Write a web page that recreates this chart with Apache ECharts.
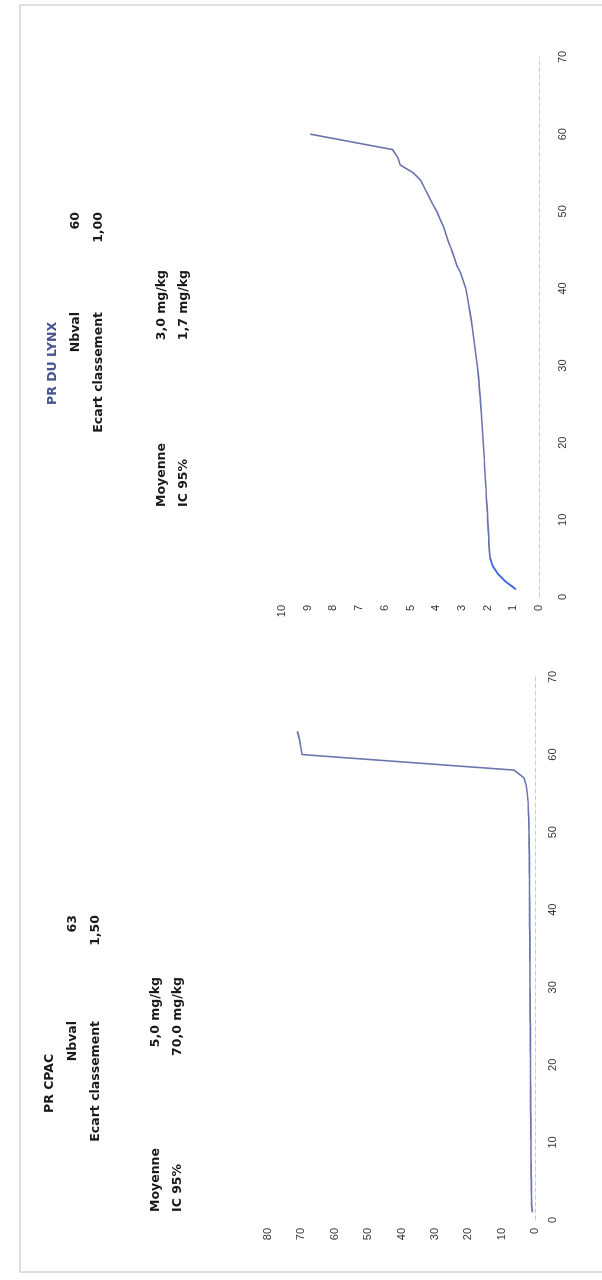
<!DOCTYPE html>
<html>
<head>
<meta charset="utf-8">
<script src="https://cdn.jsdelivr.net/npm/echarts@6/dist/echarts.min.js"></script>
<style>
  html, body { margin: 0; padding: 0; background: #ffffff; overflow: hidden; }
  body { width: 602px; height: 1280px; position: relative; }
  #page {
    position: absolute; left: 0; top: 0;
    width: 1280px; height: 602px;
    transform-origin: 0 0;
    transform: translateY(1280px) rotate(-90deg);
    background: #ffffff;
  }
</style>
</head>
<body>
<div id="page"></div>
<script>
// ---------- data ----------
const xTicks = [0, 10, 20, 30, 40, 50, 60, 70];

// PR CPAC (left chart in the page, bottom of the picture)
const cpacTitle = "PR CPAC";
const cpacRank = [1,2,3,4,5,6,7,8,9,10,11,12,13,14,15,16,17,18,19,20,21,22,23,24,25,26,27,28,29,30,
                  31,32,33,34,35,36,37,38,39,40,41,42,43,44,45,46,47,48,49,50,51,52,53,54,55,56,57,58,59,60,
                  61,62,63];
const cpacValues = [0.8,1.0,1.05,1.1,1.1,1.15,1.15,1.2,1.2,1.2,
                    1.25,1.25,1.25,1.3,1.3,1.3,1.3,1.35,1.35,1.35,
                    1.35,1.4,1.4,1.4,1.4,1.45,1.45,1.45,1.45,1.5,
                    1.5,1.5,1.5,1.55,1.55,1.55,1.55,1.6,1.6,1.6,
                    1.6,1.65,1.65,1.65,1.7,1.7,1.7,1.75,1.75,1.8,
                    1.85,1.9,2.0,2.1,2.3,2.6,3.3,6.3,38.0,69.8,
                    70.2,70.6,71.2];
const cpacYTicks = [0, 10, 20, 30, 40, 50, 60, 70, 80];
const cpacStats = { nbval: "63", ecart: "1,50", moyenne: "5,0 mg/kg", ic: "70,0 mg/kg" };

// PR DU LYNX (right chart in the page, top of the picture)
const lynxTitle = "PR DU LYNX";
const lynxRank = [1,2,3,4,5,6,7,8,9,10,11,12,13,14,15,16,17,18,19,20,21,22,23,24,25,26,27,28,29,30,
                  31,32,33,34,35,36,37,38,39,40,41,42,43,44,45,46,47,48,49,50,51,52,53,54,55,56,57,58,59,60];
const lynxValues = [0.9,1.3,1.6,1.8,1.9,1.93,1.95,1.96,1.98,2.0,
                    2.01,2.03,2.05,2.06,2.08,2.1,2.12,2.13,2.15,2.17,
                    2.19,2.21,2.23,2.25,2.27,2.29,2.32,2.34,2.37,2.4,
                    2.44,2.48,2.52,2.56,2.6,2.64,2.69,2.74,2.79,2.85,
                    2.95,3.05,3.2,3.3,3.4,3.52,3.62,3.72,3.85,3.98,
                    4.15,4.3,4.45,4.6,4.9,5.4,5.5,5.7,7.3,8.9];
const lynxYTicks = [0,1,2,3,4,5,6,7,8,9,10];
const lynxStats = { nbval: "60", ecart: "1,00", moyenne: "3,0 mg/kg", ic: "1,7 mg/kg" };
const lynxBrightCount = 5;   // first points drawn in the brighter blue

const labelNbval = "Nbval";
const labelEcart = "Ecart classement";
const labelMoy = "Moyenne";
const labelIC = "IC 95%";

// ---------- chart ----------
function pairs(xs, ys) { return xs.map((x, i) => [x, ys[i]]); }

const chart = echarts.init(document.getElementById('page'), null, { width: 1280, height: 602, renderer: 'canvas' });

const FONT = '"Liberation Sans", Arial, sans-serif';
const BOLDFONT = '"DejaVu Sans", "Liberation Sans", sans-serif';
const tickLabel = { color: '#333333', fontSize: 11, fontFamily: FONT };

function xAxisDef(gridIndex, margin) {
  return {
    type: 'value', gridIndex, min: 0, max: 70, interval: 10,
    axisLine: { show: true, onZero: false, lineStyle: { color: '#c9c9ea', type: [4, 3], width: 1 } },
    axisTick: { show: false },
    splitLine: { show: false },
    axisLabel: Object.assign({ margin }, tickLabel)
  };
}
function yAxisDef(gridIndex, max, interval) {
  return {
    type: 'value', gridIndex, min: 0, max, interval,
    axisLine: { show: false }, axisTick: { show: false },
    splitLine: { show: false },
    axisLabel: Object.assign({ margin: 8 }, tickLabel)
  };
}

function statsText(y0, title, titleColor, s, xTitle, xRightLabels, xRightValues, xMoyLeft, xMoyRight, yMoy) {
  const bold = { fontFamily: BOLDFONT, fontWeight: 'bold', fontSize: 12.5, fill: '#1a1a1a' };
  const items = [];
  const t = (text, x, y, align, extra) => items.push({
    type: 'text', x, y,
    style: Object.assign({ text, textAlign: align, textVerticalAlign: 'middle' }, bold, extra || {})
  });
  t(title, xTitle, y0, 'left', { fill: titleColor });
  t(labelNbval, xRightLabels, y0 + 23, 'right');
  t(labelEcart, xRightLabels, y0 + 46, 'right');
  t(s.nbval, xRightValues, y0 + 23, 'right');
  t(s.ecart, xRightValues, y0 + 46, 'right');
  t(labelMoy, xMoyLeft, yMoy, 'left');
  t(labelIC, xMoyLeft, yMoy + 22, 'left');
  t(s.moyenne, xMoyRight, yMoy, 'right');
  t(s.ic, xMoyRight, yMoy + 22, 'right');
  return items;
}

const graphics = [
  { type: 'rect', shape: { x: 8, y: 20, width: 1267, height: 600 },
    style: { fill: 'none', stroke: '#ddd3d5', lineWidth: 1.5 } }
]
.concat(statsText(50, cpacTitle, '#1a1a1a', cpacStats, 167, 259, 365, 68, 303, 156))
.concat(statsText(53, lynxTitle, '#45548f', lynxStats, 875, 968, 1068, 773, 1010, 162));

const lynxAll = pairs(lynxRank, lynxValues);

chart.setOption({
  backgroundColor: '#ffffff',
  animation: false,
  grid: [
    { left: 60, width: 543, top: 268, height: 267 },
    { left: 683, width: 540, top: 282, height: 257 }
  ],
  xAxis: [ xAxisDef(0, 12), xAxisDef(1, 18) ],
  yAxis: [ yAxisDef(0, 80, 10), yAxisDef(1, 10, 1) ],
  series: [
    { type: 'line', xAxisIndex: 0, yAxisIndex: 0, data: pairs(cpacRank, cpacValues),
      showSymbol: false, smooth: false, lineStyle: { color: '#6b75ab', width: 1.6 } },
    { type: 'line', xAxisIndex: 1, yAxisIndex: 1, data: lynxAll,
      showSymbol: false, smooth: false, lineStyle: { color: '#6a73ac', width: 1.6 } },
    { type: 'line', xAxisIndex: 1, yAxisIndex: 1, data: lynxAll.slice(0, lynxBrightCount),
      showSymbol: false, smooth: false, lineStyle: { color: '#4f6fe6', width: 1.8 } }
  ],
  graphic: graphics
});
</script>
</body>
</html>
